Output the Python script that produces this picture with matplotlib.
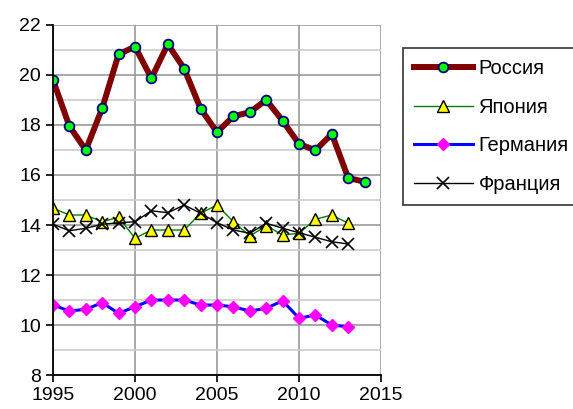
import numpy as np
import matplotlib
matplotlib.use("Agg")
import matplotlib.pyplot as plt

plt.rcParams['font.family'] = ['Liberation Sans', 'DejaVu Sans']

years = list(range(1995, 2015))

russia = [19.8, 17.95, 17.0, 18.67, 20.83, 21.13, 19.87, 21.23, 20.25, 18.65,
          17.71, 18.35, 18.51, 19.0, 18.17, 17.24, 16.99, 17.64, 15.88, 15.73]
japan = [14.67, 14.4, 14.4, 14.13, 14.31, 13.47, 13.8, 13.8, 13.8, 14.47,
         14.8, 14.13, 13.56, 13.97, 13.6, 13.67, 14.23, 14.4, 14.07]
germany = [10.8, 10.56, 10.63, 10.89, 10.47, 10.73, 11.0, 11.0, 11.0, 10.8,
           10.8, 10.73, 10.56, 10.67, 10.97, 10.27, 10.4, 10.0, 9.93]
france = [14.03, 13.77, 13.87, 14.03, 14.09, 14.13, 14.57, 14.49, 14.8, 14.47,
          14.09, 13.8, 13.67, 14.07, 13.87, 13.69, 13.51, 13.33, 13.24]

names = ['Россия', 'Япония', 'Германия', 'Франция']

fig = plt.figure(figsize=(5.73, 4.09), dpi=100)
ax = fig.add_axes([0.0925, 0.083, 0.5725, 0.856])

ax.plot(years, russia, color='#800000', lw=4.3, marker='o', ms=7,
        mfc='#00ff00', mec='#000080', mew=1.3, label=names[0], zorder=5)
ax.plot(years[:len(japan)], japan, color='#008000', lw=1.0, marker='^', ms=8,
        mfc='#ffff00', mec='black', mew=1.0, label=names[1], zorder=4)
ax.plot(years[:len(germany)], germany, color='#0000ff', lw=2.2, marker='D', ms=6.5,
        mfc='#ff00ff', mec='#ff00ff', label=names[2], zorder=4)
ax.plot(years[:len(france)], france, color='black', lw=1.0, marker='x', ms=8,
        mew=1.2, label=names[3], zorder=4)

ax.set_xlim(1995, 2015)
ax.set_ylim(8, 22)
ax.set_xticks(range(1995, 2016, 5))
ax.set_yticks(range(8, 23, 2))
ax.set_yticks(range(9, 22, 2), minor=True)
ax.tick_params(axis='y', which='minor', length=0)
ax.tick_params(axis='both', which='major', labelsize=14, length=5, width=1.2, direction='out')
ax.grid(True, which='major', color='#999999', lw=1.2)
ax.grid(True, which='minor', axis='y', color='#cccccc', lw=1.2)
ax.set_axisbelow(True)

for s in ['top', 'right']:
    ax.spines[s].set_visible(False)
for s in ['left', 'bottom']:
    ax.spines[s].set_linewidth(1.3)
    ax.spines[s].set_zorder(6)

leg = ax.legend(loc='upper left', bbox_to_anchor=(1.067, 0.934), fontsize=14.5,
                frameon=True, fancybox=False, edgecolor='black', handlelength=2.9,
                handletextpad=0.3, labelspacing=0.97, borderpad=0.55,
                borderaxespad=0)
leg.get_frame().set_linewidth(1.2)

fig.savefig('out.png', dpi=100)
